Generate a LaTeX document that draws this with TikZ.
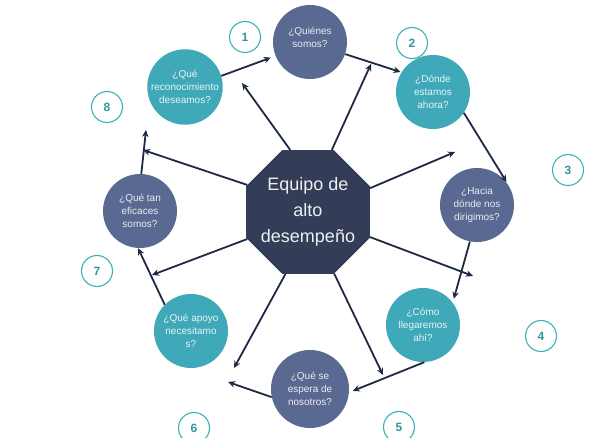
\documentclass[tikz,border=0pt]{standalone}
\usepackage{fontspec}
\setmainfont{Liberation Sans}
\usetikzlibrary{shapes.geometric,arrows.meta}
\definecolor{tealc}{HTML}{3FA9B9}
\definecolor{slate}{HTML}{5A6991}
\definecolor{navy}{HTML}{343D57}
\definecolor{arr}{HTML}{1E2A45}
\definecolor{ring}{HTML}{3DB1B6}
\begin{document}
\begin{tikzpicture}[x=1pt,y=-1pt,
  q/.style={circle, minimum size=74pt, inner sep=0pt, align=center, text=white, text opacity=0.88, font=\fontsize{10}{13}\selectfont},
  qt/.style={q, fill=tealc},
  qs/.style={q, fill=slate},
  num/.style={circle, draw=ring, line width=1.1pt, fill=white, minimum size=31pt, inner sep=0pt, text=ring!85!black, font=\fontsize{12}{12}\selectfont\bfseries},
  arrow/.style={draw=arr, line width=1.8pt, -{Stealth[length=7pt,width=6.5pt]}},
]
\useasboundingbox (0,0) rectangle (600,438);
\fill[white] (0,0) rectangle (600,438);

\node[regular polygon, regular polygon sides=8, minimum size=134pt, fill=navy, inner sep=0pt] (core) at (308,212) {};
\node[text=white!92!navy, align=center, font=\fontsize{18}{26}\selectfont] (coretext) at (core.center) {Equipo de\\alto\\desempeño};

\node[qs] (quien) at (310,42) {¿Quiénes\\somos?\\[-4pt]};
\node[qt] (recon) at (185,87) {¿Qué\\reconocimiento\\deseamos?};
\node[qt] (donde) at (433,92) {¿Dónde\\estamos\\ahora?};
\node[qs] (hacia) at (477,205) {¿Hacia\\dónde nos\\dirigimos?};
\node[qt] (como) at (423,325) {¿Cómo\\llegaremos\\ahí?};
\node[qs, minimum size=78pt] (espera) at (310,389) {¿Qué se\\espera de\\nosotros?};
\node[qt] (apoyo) at (191,331) {¿Qué apoyo\\necesitamo\\s?};
\node[qs] (efic) at (140,211) {¿Qué tan\\eficaces\\somos?};

\node[num] (n1) at (245,37) {1};
\node[num] (n2) at (412,43) {2};
\node[num] (n3) at (568,170) {3};
\node[num] (n4) at (541,336) {4};
\node[num] (n5) at (399,427) {5};
\node[num] (n6) at (194,428) {6};
\node[num] (n7) at (97,271) {7};
\node[num] (n8) at (107,107) {8};

\coordinate (c1) at (242,83);
\coordinate (c2) at (371,64);
\coordinate (c3) at (455,152);
\coordinate (c4) at (473,276);
\coordinate (c5) at (383,375);
\coordinate (c6) at (234,368);
\coordinate (c7) at (152,275);
\coordinate (c8) at (143,150);
\coordinate (c9) at (146,130);
\coordinate (c10) at (228,382);

\draw[arrow] (core.106) -- (c1);
\draw[arrow] (core.69) -- (c2);
\draw[arrow] (core.21) -- (c3);
\draw[arrow] (core.-22) -- (c4);
\draw[arrow] (core.-67) -- (c5);
\draw[arrow] (core.-110) -- (c6);
\draw[arrow] (core.204) -- (c7);
\draw[arrow] (core.156) -- (c8);

\draw[arrow, shorten >=5pt] (recon.17) -- (quien.202);
\draw[arrow, shorten >=1pt] (quien.-19) -- (donde.148);
\draw[arrow, shorten >=4pt] (donde.-34) -- (hacia.32);
\draw[arrow, shorten >=4pt] (hacia.-101) -- (como.37);
\draw[arrow, shorten >=4pt] (como.-88) -- (espera.-5);
\draw[arrow] (espera.192) -- (c10);
\draw[arrow] (apoyo.135) -- (efic.267);
\draw[arrow] (efic.88) -- (c9);
\end{tikzpicture}
\end{document}
